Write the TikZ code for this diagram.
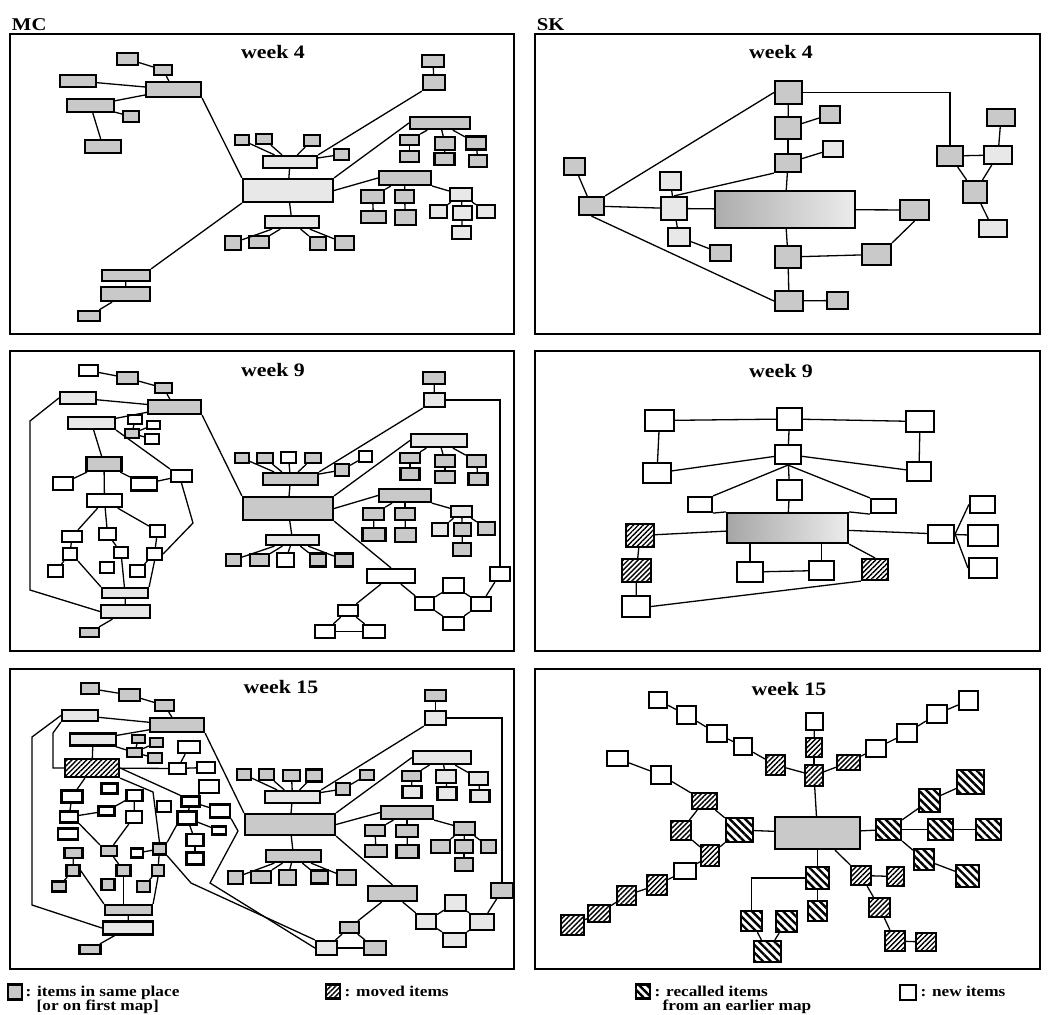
\documentclass[tikz,border=0pt]{standalone}
\usepackage{fontspec}
\setmainfont{Liberation Serif}[FakeStretch=1.15]
\usetikzlibrary{patterns.meta}

\begin{document}
\begin{tikzpicture}[
  x=1pt,y=-1pt,line width=1.3pt,
  box/.style={draw,rectangle,line width=2.2pt,inner sep=0pt},
  sz/.style 2 args={minimum width=#1pt,minimum height=#2pt},
  old/.style={box,fill=gray!42},
  light/.style={box,fill=gray!18},
  fresh/.style={box,fill=white},
  moved/.style={box,pattern={Lines[angle=45,distance=3.5pt,line width=1.4pt]}},
  recalled/.style={box,pattern={Lines[angle=-45,distance=5.5pt,line width=2.4pt]}},
  hub/.style={box,left color=#1,right color=gray!15},
  panel/.style={draw,line width=1.6pt},
  title/.style={font=\fontsize{19}{19}\selectfont\bfseries,anchor=base},
  tag/.style={font=\fontsize{18}{18}\selectfont\bfseries,anchor=base west},
  key/.style={font=\fontsize{15}{14.5}\selectfont\bfseries,anchor=base west,
    inner sep=0pt,align=left}
]
  \useasboundingbox (0,0) rectangle (1050,1015);
  \node[tag] (mc) at (8,30) {MC};
  \node[tag] (sk) at (533,30) {SK};
  \draw[panel] (10,34) rectangle (514,334);
  \draw[panel] (535,34) rectangle (1040,334);
  \draw[panel] (10,351) rectangle (514,651);
  \draw[panel] (535,351) rectangle (1040,651);
  \draw[panel] (10,669) rectangle (514,969);
  \draw[panel] (535,669) rectangle (1040,969);

  % MC, week 4
  \node[title] (tA) at (273,58.5) {week 4};
  \node[old,sz={21}{12}] (A1) at (127.5,59) {};
  \node[old,sz={18}{10}] (A2) at (163,70) {};
  \node[old,sz={36}{12}] (A3) at (78,81) {};
  \node[old,sz={55}{15}] (A4) at (173.5,89.5) {};
  \node[old,sz={47}{13}] (A5) at (90.5,105.5) {};
  \node[old,sz={16}{11}] (A6) at (131,116.5) {};
  \node[old,sz={36}{13}] (A7) at (103,146.5) {};
  \node[old,sz={22}{12}] (A8) at (433,61) {};
  \node[old,sz={22}{15}] (A9) at (434,82.5) {};
  \node[light,sz={90}{23}] (Ac) at (288,190.5) {};
  \node[light,sz={54}{12}] (At) at (290,162) {};
  \node[old,sz={14}{10}] (Aa1) at (242,140) {};
  \node[old,sz={16}{10}] (Aa2) at (264,139) {};
  \node[old,sz={16}{11}] (Aa3) at (312,140.5) {};
  \node[old,sz={15}{11}] (Aa4) at (341.5,154.5) {};
  \node[old,sz={60}{12}] (Ar) at (440,123) {};
  \node[old,sz={19}{10}] (Ar1) at (409.5,140) {};
  \node[old,sz={19}{11}] (Ar1b) at (409.5,156.5) {};
  \node[old,sz={20}{13}] (Ar2) at (445,143.5) {};
  \node[old,sz={20}{12}] (Ar2b) at (444.5,159) {};
  \node[old,sz={20}{13}] (Ar3) at (476,143) {};
  \node[old,sz={18}{12}] (Ar3b) at (478,161) {};
  \node[old,sz={52}{14}] (As) at (405,178) {};
  \node[old,sz={23}{13}] (As1) at (372.5,196.5) {};
  \node[old,sz={25}{12}] (As1b) at (373.5,217) {};
  \node[old,sz={19}{13}] (As2) at (404.5,196.5) {};
  \node[old,sz={21}{15}] (As2b) at (405.5,217.5) {};
  \node[light,sz={22}{13}] (Aq) at (461,194.5) {};
  \node[light,sz={17}{13}] (Aq1) at (438.5,211.5) {};
  \node[light,sz={19}{14}] (Aq2) at (462.5,213) {};
  \node[light,sz={18}{13}] (Aq3) at (486,211.5) {};
  \node[light,sz={19}{13}] (Aq4) at (461.5,232.5) {};
  \node[light,sz={54}{12}] (Ab) at (292,222) {};
  \node[old,sz={16}{14}] (Ab1) at (233,243) {};
  \node[old,sz={20}{12}] (Ab2) at (259,242) {};
  \node[old,sz={16}{13}] (Ab3) at (318,243.5) {};
  \node[old,sz={19}{14}] (Ab4) at (344.5,243) {};
  \node[old,sz={48}{11}] (Al1) at (126,275.5) {};
  \node[old,sz={49}{14}] (Al2) at (125.5,294) {};
  \node[old,sz={22}{10}] (Al3) at (89,316) {};
  \draw (A1) -- (A2);
  \draw (A2) -- (A4);
  \draw (A3) -- (A4);
  \draw (A5) -- (A4);
  \draw (A5) -- (A6);
  \draw (A5) -- (A7);
  \draw (A4.south east) -- (Ac.north west);
  \draw (A8) -- (A9);
  \draw (A9.south west) -- (At.north east);
  \draw (Ac) -- (At);
  \draw (Aa1) -- (At);
  \draw (Aa2) -- (At);
  \draw (Aa3) -- (At);
  \draw (Aa4) -- (At);
  \draw (Ac.north east) -- (Ar.west);
  \draw (Ar) -- (Ar1); \draw (Ar1) -- (Ar1b);
  \draw (Ar) -- (Ar2); \draw (Ar2) -- (Ar2b);
  \draw (Ar) -- (Ar3); \draw (Ar3) -- (Ar3b);
  \draw (Ac.east) -- (As.west);
  \draw (As) -- (As1); \draw (As1) -- (As1b);
  \draw (As) -- (As2); \draw (As2) -- (As2b);
  \draw (As) -- (Aq);
  \draw (Aq) -- (Aq1); \draw (Aq) -- (Aq2); \draw (Aq) -- (Aq3);
  \draw (Aq2) -- (Aq4);
  \draw (Ac) -- (Ab);
  \draw (Ab) -- (Ab1); \draw (Ab) -- (Ab2);
  \draw (Ab) -- (Ab3); \draw (Ab) -- (Ab4);
  \draw (Ac.south west) -- (Al1.north east);
  \draw (Al1) -- (Al2);
  \draw (Al2) -- (Al3);

  % SK, week 4
  \node[title] (tB) at (781,58) {week 4};
  \node[hub=gray!65,sz={140}{37}] (Bc) at (785,209.5) {};
  \node[old,sz={27}{23}] (B1) at (788.5,92.5) {};
  \node[old,sz={26}{22}] (B2) at (788,128) {};
  \node[old,sz={20}{17}] (B3) at (830,114.5) {};
  \node[old,sz={26}{18}] (B4) at (788,163) {};
  \node[light,sz={20}{16}] (B5) at (833,149) {};
  \node[old,sz={21}{17}] (B6) at (574.5,166.5) {};
  \node[old,sz={25}{18}] (B7) at (591.5,206) {};
  \node[light,sz={21}{18}] (B8) at (670.5,181) {};
  \node[light,sz={26}{23}] (B9) at (674,208.5) {};
  \node[light,sz={22}{18}] (B10) at (679,237) {};
  \node[old,sz={21}{16}] (B11) at (720.5,253) {};
  \node[old,sz={26}{22}] (B12) at (788,257) {};
  \node[old,sz={29}{21}] (B13) at (876.5,254.5) {};
  \node[old,sz={29}{20}] (B14) at (914.5,210) {};
  \node[old,sz={28}{20}] (B15) at (789,301) {};
  \node[old,sz={21}{17}] (B16) at (837.5,300.5) {};
  \node[old,sz={26}{20}] (Br1) at (950,156) {};
  \node[light,sz={28}{18}] (Br2) at (998,155) {};
  \node[old,sz={28}{17}] (Br3) at (1001,117.5) {};
  \node[old,sz={24}{22}] (Br4) at (975,192) {};
  \node[light,sz={28}{17}] (Br5) at (993,228.5) {};
  \draw (B1) -- (B2);
  \draw (B2) -- (B3);
  \draw (B2) -- (B4);
  \draw (B4) -- (B5);
  \draw (B4) -- (Bc);
  \draw (B1.west) -- (B7.north east);
  \draw (B7) -- (B6);
  \draw (B7) -- (B9);
  \draw (B7.south) -- (B15.west);
  \draw (B9) -- (Bc);
  \draw (B9) -- (B8);
  \draw (B9.north) -- (B4.south west);
  \draw (B9) -- (B10);
  \draw (B10) -- (B11);
  \draw (Bc) -- (B12);
  \draw (B12) -- (B13);
  \draw (B13.north east) -- (B14.south);
  \draw (Bc) -- (B14);
  \draw (B12) -- (B15);
  \draw (B15) -- (B16);
  \draw (B1.east) -| (Br1.north);
  \draw (Br1) -- (Br2);
  \draw (Br2) -- (Br3);
  \draw (Br1) -- (Br4);
  \draw (Br2) -- (Br4);
  \draw (Br4) -- (Br5);

  % MC, week 9
  \node[title] (tC) at (273,376.5) {week 9};
  \node[fresh,sz={19}{11}] (C1) at (88.5,370.5) {};
  \node[old,sz={21}{12}] (C2) at (127.5,378) {};
  \node[old,sz={17}{10}] (C3) at (163.5,388) {};
  \node[old,sz={53}{14}] (C4) at (174.5,407) {};
  \node[light,sz={36}{12}] (C5) at (78,398) {};
  \node[light,sz={47}{12}] (C6) at (91.5,423) {};
  \node[fresh,sz={14}{9}] (Cs1) at (135,419.5) {};
  \node[fresh,sz={13}{8}] (Cs2) at (153.5,425) {};
  \node[old,sz={14}{9}] (Cs3) at (132,433.5) {};
  \node[fresh,sz={14}{10}] (Cs4) at (152,439) {};
  \node[old,sz={35}{14}] (Cp) at (104,464) {};
  \node[fresh,sz={21}{12}] (Cw1) at (181.5,476) {};
  \node[fresh,sz={20}{13}] (Cw2) at (63,483.5) {};
  \node[fresh,sz={26}{13}] (Cw3) at (144,484) {};
  \node[fresh,sz={35}{13}] (Cw4) at (104.5,500.5) {};
  \node[fresh,sz={20}{11}] (Cw5) at (72,536.5) {};
  \node[fresh,sz={17}{12}] (Cw6) at (107.5,534) {};
  \node[fresh,sz={15}{12}] (Cw7) at (157.5,531) {};
  \node[fresh,sz={14}{12}] (Cw8) at (70,554) {};
  \node[fresh,sz={15}{12}] (Cw9) at (55.5,571) {};
  \node[fresh,sz={14}{11}] (Cw10) at (121,552.5) {};
  \node[fresh,sz={14}{11}] (Cw11) at (107,567.5) {};
  \node[fresh,sz={15}{12}] (Cw12) at (154.5,554) {};
  \node[fresh,sz={15}{12}] (Cw13) at (137.5,571) {};
  \node[light,sz={46}{10}] (Cg1) at (125,593) {};
  \node[light,sz={49}{13}] (Cg2) at (125.5,611.5) {};
  \node[old,sz={19}{9}] (Cg3) at (89.5,632.5) {};
  \draw (C1) -- (C2);
  \draw (C2) -- (C3);
  \draw (C3) -- (C4);
  \draw (C5) -- (C4);
  \draw (C6) -- (C4);
  \draw (Cs3) -- (Cs1); \draw (Cs3) -- (Cs2); \draw (Cs3) -- (Cs4);
  \draw (C6) -- (Cp);
  \draw (C6.south east) -- (Cw1.north west);
  \draw (Cp) -- (Cw2);
  \draw (Cp) -- (Cw3);
  \draw (Cw3) -- (Cw1);
  \draw (Cp) -- (Cw4);
  \draw (Cw4) -- (Cw5); \draw (Cw4) -- (Cw6); \draw (Cw4) -- (Cw7);
  \draw (Cw5) -- (Cw8);
  \draw (Cw8) -- (Cw9);
  \draw (Cw6) -- (Cw10);
  \draw (Cw7) -- (Cw12);
  \draw (Cw12) -- (Cw13);
  \draw (Cw8.south east) -- (Cg1.north west);
  \draw (Cw10) -- (Cg1);
  \draw (Cw12.south) -- (Cg1.north east);
  \draw (Cg1) -- (Cg2);
  \draw (Cg2) -- (Cg3);
  \draw (Cw1.south) -- (193,523) -- (Cw12.east);
  \draw (C5.west) -- (30,421) -- (30,590) -- (Cg2.west);
  \node[old,sz={22}{12}] (Cc1) at (434,378) {};
  \node[light,sz={21}{14}] (Cc2) at (434.5,400) {};
  \node[fresh,sz={20}{14}] (Ccr) at (500,574) {};
  \node[old,sz={90}{23}] (Cc) at (288,508.5) {};
  \node[old,sz={55}{12}] (Ct) at (290.5,479) {};
  \node[old,sz={14}{10}] (Ct1) at (242,458) {};
  \node[old,sz={16}{10}] (Ct2) at (265,458) {};
  \node[fresh,sz={15}{11}] (Ct3) at (288.5,457.5) {};
  \node[old,sz={16}{10}] (Ct4) at (313,458) {};
  \node[old,sz={14}{12}] (Ct5) at (342,470) {};
  \node[fresh,sz={13}{11}] (Ct6) at (365.5,456.5) {};
  \node[light,sz={56}{13}] (Cr) at (439,440.5) {};
  \node[old,sz={20}{10}] (Cr1) at (410,458) {};
  \node[old,sz={19}{12}] (Cr1b) at (410,474) {};
  \node[old,sz={20}{12}] (Cr2) at (445,461) {};
  \node[old,sz={20}{12}] (Cr2b) at (445,477) {};
  \node[old,sz={19}{12}] (Cr3) at (476.5,461) {};
  \node[old,sz={19}{12}] (Cr3b) at (478,479) {};
  \node[old,sz={52}{13}] (Cm) at (405,495.5) {};
  \node[old,sz={21}{12}] (Cm1) at (373.5,514) {};
  \node[old,sz={23}{13}] (Cm1b) at (374,534.5) {};
  \node[old,sz={20}{12}] (Cm2) at (405,514) {};
  \node[old,sz={21}{14}] (Cm2b) at (405.5,535) {};
  \node[light,sz={21}{11}] (Cq) at (461.5,511.5) {};
  \node[light,sz={16}{13}] (Cq1) at (440,529.5) {};
  \node[old,sz={17}{13}] (Cq2) at (462.5,529.5) {};
  \node[old,sz={17}{13}] (Cq3) at (486.5,528.5) {};
  \node[old,sz={18}{13}] (Cq4) at (462,549.5) {};
  \node[light,sz={53}{10}] (Cb) at (292.5,540) {};
  \node[old,sz={15}{12}] (Cd1) at (233.5,560) {};
  \node[old,sz={19}{12}] (Cd2) at (259.5,560) {};
  \node[fresh,sz={17}{14}] (Cd3) at (285.5,560) {};
  \node[old,sz={16}{13}] (Cd4) at (318,560) {};
  \node[old,sz={18}{13}] (Cd5) at (344,560) {};
  \node[fresh,sz={48}{14}] (Ce1) at (391,576) {};
  \node[fresh,sz={20}{11}] (Ce2) at (348,610.5) {};
  \node[fresh,sz={20}{13}] (Ce3) at (325,631.5) {};
  \node[fresh,sz={22}{13}] (Ce4) at (374,631.5) {};
  \node[fresh,sz={19}{13}] (Ce5) at (424.5,603.5) {};
  \node[fresh,sz={21}{15}] (Ce6) at (453.5,585.5) {};
  \node[fresh,sz={20}{14}] (Ce7) at (481,604) {};
  \node[fresh,sz={21}{13}] (Ce8) at (453.5,623.5) {};
  \draw (C4.south east) -- (Cc.north west);
  \draw (Cc1) -- (Cc2);
  \draw (Cc2.south west) -- (Ct.north east);
  \draw (Cc2.east) -| (Ccr.north);
  \draw (Cc) -- (Ct);
  \draw (Ct1) -- (Ct); \draw (Ct2) -- (Ct); \draw (Ct3) -- (Ct); \draw (Ct4) -- (Ct);
  \draw (Ct5) -- (Ct);
  \draw (Ct6) -- (Ct5);
  \draw (Cc.north east) -- (Cr.west);
  \draw (Cr) -- (Cr1); \draw (Cr1) -- (Cr1b);
  \draw (Cr) -- (Cr2); \draw (Cr2) -- (Cr2b);
  \draw (Cr) -- (Cr3); \draw (Cr3) -- (Cr3b);
  \draw (Cc.east) -- (Cm.west);
  \draw (Cm) -- (Cm1); \draw (Cm1) -- (Cm1b);
  \draw (Cm) -- (Cm2); \draw (Cm2) -- (Cm2b);
  \draw (Cm) -- (Cq);
  \draw (Cq) -- (Cq1); \draw (Cq) -- (Cq2); \draw (Cq) -- (Cq3);
  \draw (Cq2) -- (Cq4);
  \draw (Cc) -- (Cb);
  \draw (Cb) -- (Cd1); \draw (Cb) -- (Cd2); \draw (Cb) -- (Cd3);
  \draw (Cb) -- (Cd4); \draw (Cb) -- (Cd5);
  \draw (Cc.south east) -- (Ce1.north);
  \draw (Ce1) -- (Ce2);
  \draw (Ce2) -- (Ce3); \draw (Ce2) -- (Ce4); \draw (Ce3) -- (Ce4);
  \draw (Ce1) -- (Ce5);
  \draw (Ce5) -- (Ce6); \draw (Ce6) -- (Ce7);
  \draw (Ce5) -- (Ce8); \draw (Ce8) -- (Ce7);
  \draw (Ce7) -- (Ccr);

  % SK, week 9
  \node[title] (tD) at (781,377) {week 9};
  \node[hub=gray!70,sz={121}{30}] (Dc) at (787.5,528) {};
  \node[fresh,sz={29}{21}] (D1) at (659.5,420.5) {};
  \node[fresh,sz={25}{22}] (D2) at (789.5,419) {};
  \node[fresh,sz={28}{21}] (D3) at (920,421.5) {};
  \node[fresh,sz={28}{20}] (D4) at (657,473) {};
  \node[fresh,sz={26}{19}] (D5) at (788,454.5) {};
  \node[fresh,sz={24}{19}] (D6) at (919,471.5) {};
  \node[fresh,sz={25}{20}] (D7) at (789.5,490) {};
  \node[fresh,sz={24}{15}] (D8) at (700,504.5) {};
  \node[fresh,sz={25}{14}] (D9) at (883.5,506) {};
  \node[moved,sz={28}{23}] (D10) at (640,535.5) {};
  \node[moved,sz={29}{23}] (D11) at (636.5,570.5) {};
  \node[fresh,sz={28}{21}] (D12) at (636,606.5) {};
  \node[fresh,sz={26}{20}] (D13) at (750,572) {};
  \node[fresh,sz={25}{19}] (D14) at (821.5,570.5) {};
  \node[moved,sz={26}{21}] (D15) at (875,569.5) {};
  \node[fresh,sz={26}{18}] (D16) at (941,534) {};
  \node[fresh,sz={25}{17}] (D17) at (982.5,504.5) {};
  \node[fresh,sz={30}{21}] (D18) at (983,535.5) {};
  \node[fresh,sz={28}{20}] (D19) at (983,568) {};
  \draw (D1) -- (D2);
  \draw (D2) -- (D3);
  \draw (D1) -- (D4);
  \draw (D3) -- (D6);
  \draw (D2) -- (D5);
  \draw (D5) -- (D4);
  \draw (D5) -- (D6);
  \draw (D5.south) -- (D8.north east);
  \draw (D5) -- (D7);
  \draw (D5.south) -- (D9.north west);
  \draw (D7) -- (Dc);
  \draw (D8.south east) -- (Dc.north west);
  \draw (D9.south west) -- (Dc.north east);
  \draw (D10) -- (Dc);
  \draw (D10) -- (D11);
  \draw (D11) -- (D12);
  \draw (D13.north |- Dc.south) -- (D13.north);
  \draw (D14.north |- Dc.south) -- (D14.north);
  \draw (D13) -- (D14);
  \draw (Dc.south east) -- (D15.north);
  \draw (D15.south west) -- (D12.east);
  \draw (Dc) -- (D16);
  \draw (D16.east) -- (D17.west);
  \draw (D16) -- (D18);
  \draw (D16.east) -- (D19.west);

  % MC, week 15
  \node[title] (tE) at (281,693.5) {week 15};
  \node[old,sz={18}{11}] (E1) at (90,688.5) {};
  \node[old,sz={21}{12}] (E2) at (129.5,695) {};
  \node[old,sz={19}{11}] (E3) at (164.5,705.5) {};
  \node[old,sz={54}{14}] (E4) at (177,725) {};
  \node[light,sz={36}{11}] (E5) at (80,715.5) {};
  \node[light,sz={46}{12}] (E6) at (93,739.5) {};
  \node[old,sz={13}{8}] (Es1) at (138.5,739) {};
  \node[old,sz={13}{9}] (Es2) at (156.5,742.5) {};
  \node[old,sz={15}{9}] (Es3) at (134.5,752.5) {};
  \node[old,sz={14}{10}] (Es4) at (155,758) {};
  \node[moved,sz={54}{18}] (Em) at (92,768) {};
  \node[fresh,sz={17}{11}] (Ew) at (177.5,768.5) {};
  \node[fresh,sz={22}{12}] (Ex1) at (189,747) {};
  \node[fresh,sz={18}{11}] (Ex2) at (206,767.5) {};
  \node[fresh,sz={20}{13}] (Ez1) at (209,786.5) {};
  \node[fresh,sz={18}{10}] (Ey1) at (190.5,801.5) {};
  \node[fresh,sz={14}{11}] (Ez2) at (164,806.5) {};
  \node[fresh,sz={19}{13}] (Ez3) at (187,818) {};
  \node[fresh,sz={20}{13}] (Ey2) at (220,811) {};
  \node[fresh,sz={14}{8}] (Ez4) at (219,830.5) {};
  \node[fresh,sz={17}{12}] (Ez5) at (195,840) {};
  \node[fresh,sz={17}{12}] (Ez6) at (195,858.5) {};
  \node[old,sz={13}{11}] (Eq) at (159.5,849) {};
  \node[fresh,sz={12}{9}] (Eqw) at (137,853) {};
  \node[old,sz={12}{11}] (Ef) at (158,870.5) {};
  \node[old,sz={13}{11}] (Ei) at (143.5,886.5) {};
  \node[fresh,sz={21}{12}] (En1) at (72,796.5) {};
  \node[fresh,sz={16}{10}] (En2) at (109.5,788.5) {};
  \node[fresh,sz={16}{11}] (En3) at (134.5,795.5) {};
  \node[fresh,sz={18}{11}] (En4) at (69,817) {};
  \node[fresh,sz={16}{9}] (En5) at (106.5,811) {};
  \node[fresh,sz={16}{12}] (En6) at (134,817) {};
  \node[fresh,sz={20}{11}] (En7) at (68,834) {};
  \node[old,sz={16}{10}] (Egq) at (109,851) {};
  \node[old,sz={18}{10}] (Ega) at (73.5,853) {};
  \node[old,sz={13}{11}] (Egb) at (73,870.5) {};
  \node[old,sz={14}{10}] (Egc) at (59,886.5) {};
  \node[old,sz={14}{11}] (Egd) at (123.5,870.5) {};
  \node[old,sz={13}{11}] (Ege) at (108,884.5) {};
  \node[old,sz={47}{10}] (Eg1) at (128.5,910) {};
  \node[light,sz={50}{13}] (Eg2) at (128,928) {};
  \node[old,sz={21}{9}] (Eg3) at (90,949.5) {};
  \draw (E1) -- (E2);
  \draw (E2) -- (E3);
  \draw (E3) -- (E4);
  \draw (E5) -- (E4);
  \draw (E6) -- (E4);
  \draw (E6) -- (Es3);
  \draw (Es3) -- (Es1); \draw (Es3) -- (Es2); \draw (Es3) -- (Es4);
  \draw (E6) -- (Em);
  \draw (E5.west) -- (32,737) -- (32,905) -- (Eg2.west);
  \draw (E5.south west) -- (53,733) -- (53,768) -- (Em.west);
  \draw (Em) -- (Ew);
  \draw (Ew) -- (Ex1);
  \draw (Ew) -- (Ex2);
  \draw (Em.east) -- (Ey1.north west);
  \draw (Em.south east) -- (153,792) -- (Eq.north);
  \draw (Ey1) -- (Ez1);
  \draw (Ey1) -- (Ez3);
  \draw (Ey1) -- (Ey2);
  \draw (Ez3) -- (Ez4);
  \draw (Ez3) -- (Ez5);
  \draw (Ez5) -- (Ez6);
  \draw (Ez3.south west) -- (Eq.north east);
  \draw (Eqw) -- (Eq);
  \draw (Eq) -- (Ef);
  \draw (Ef) -- (Ei);
  \draw (Ef.south) -- (Eg1.north east);
  \draw (Em) -- (En1);
  \draw (En1) -- (En4);
  \draw (En4) -- (En5);
  \draw (En5) -- (En3);
  \draw (En3) -- (En6);
  \draw (En4.south east) -- (Egq.north west);
  \draw (En6) -- (Egq);
  \draw (Egq) -- (Egd);
  \draw (Egd) -- (Egd |- Eg1.north);
  \draw (Ega) -- (Egb);
  \draw (Egb) -- (Egc);
  \draw (Egb.east) -- (Eg1.north west);
  \draw (Eg1) -- (Eg2);
  \draw (Eg2) -- (Eg3);
  \node[old,sz={21}{11}] (Ec1) at (435.5,695.5) {};
  \node[light,sz={21}{14}] (Ec2) at (435.5,718) {};
  \node[old,sz={22}{15}] (Ecr) at (502,890.5) {};
  \node[old,sz={90}{21}] (Ec) at (290,824.5) {};
  \node[light,sz={55}{12}] (Et) at (292.5,797) {};
  \node[old,sz={14}{11}] (Et1) at (244,774.5) {};
  \node[old,sz={15}{11}] (Et2) at (266.5,774.5) {};
  \node[old,sz={17}{11}] (Et3) at (291.5,775.5) {};
  \node[old,sz={16}{12}] (Et4) at (314,775.5) {};
  \node[old,sz={14}{12}] (Et5) at (343,789) {};
  \node[old,sz={14}{10}] (Et6) at (367,775) {};
  \node[light,sz={58}{13}] (Er) at (442,757.5) {};
  \node[old,sz={19}{10}] (Er1) at (411.5,776) {};
  \node[light,sz={19}{12}] (Er1b) at (412,792) {};
  \node[light,sz={20}{13}] (Er2) at (446,776.5) {};
  \node[light,sz={19}{13}] (Er2b) at (447,793.5) {};
  \node[light,sz={19}{13}] (Er3) at (478.5,778.5) {};
  \node[light,sz={19}{12}] (Er3b) at (480,796) {};
  \node[old,sz={52}{13}] (Ek) at (407,812.5) {};
  \node[old,sz={20}{11}] (Ek1) at (375,830.5) {};
  \node[old,sz={22}{12}] (Ek1b) at (376,851) {};
  \node[old,sz={22}{12}] (Ek2) at (407,831) {};
  \node[old,sz={22}{13}] (Ek2b) at (407.5,851.5) {};
  \node[old,sz={21}{13}] (Ej) at (464.5,828.5) {};
  \node[old,sz={19}{13}] (Ej1) at (440.5,846.5) {};
  \node[old,sz={18}{13}] (Ej2) at (464,846.5) {};
  \node[old,sz={15}{13}] (Ej3) at (488.5,846.5) {};
  \node[old,sz={18}{13}] (Ej4) at (464,864.5) {};
  \node[old,sz={55}{12}] (Eb) at (293.5,856) {};
  \node[old,sz={15}{13}] (Ed1) at (235.5,877.5) {};
  \node[old,sz={20}{12}] (Ed2) at (261,877) {};
  \node[old,sz={17}{15}] (Ed3) at (287.5,877.5) {};
  \node[old,sz={17}{13}] (Ed4) at (319.5,877) {};
  \node[old,sz={19}{15}] (Ed5) at (346.5,877.5) {};
  \node[old,sz={49}{15}] (Ee1) at (392.5,893.5) {};
  \node[old,sz={19}{11}] (Ee2) at (349.5,927.5) {};
  \node[light,sz={21}{14}] (Ee3) at (326.5,948) {};
  \node[old,sz={22}{14}] (Ee4) at (375,948) {};
  \node[light,sz={20}{15}] (Ee5) at (426,921.5) {};
  \node[light,sz={21}{16}] (Ee6) at (455.5,903) {};
  \node[light,sz={24}{16}] (Ee7) at (482,922) {};
  \node[light,sz={23}{14}] (Ee8) at (454.5,940) {};
  \draw (E4.south east) -- (Ec.north west);
  \draw (Ec1) -- (Ec2);
  \draw (Ec2.south west) -- (Et.north east);
  \draw (Ec2.east) -| (Ecr.north);
  \draw (Ec) -- (Et);
  \draw (Et1) -- (Et); \draw (Et2) -- (Et); \draw (Et3) -- (Et); \draw (Et4) -- (Et);
  \draw (Et5) -- (Et);
  \draw (Et6) -- (Et5);
  \draw (Ec.north east) -- (Er.west);
  \draw (Er) -- (Er1); \draw (Er1) -- (Er1b);
  \draw (Er) -- (Er2); \draw (Er2) -- (Er2b);
  \draw (Er) -- (Er3); \draw (Er3) -- (Er3b);
  \draw (Ec.east) -- (Ek.west);
  \draw (Ek) -- (Ek1); \draw (Ek1) -- (Ek1b);
  \draw (Ek) -- (Ek2); \draw (Ek2) -- (Ek2b);
  \draw (Ek) -- (Ej);
  \draw (Ej) -- (Ej1); \draw (Ej) -- (Ej2); \draw (Ej) -- (Ej3);
  \draw (Ej2) -- (Ej4);
  \draw (Ec) -- (Eb);
  \draw (Eb) -- (Ed1); \draw (Eb) -- (Ed2); \draw (Eb) -- (Ed3);
  \draw (Eb) -- (Ed4); \draw (Eb) -- (Ed5);
  \draw (Ec.south east) -- (Ee1.north);
  \draw (Ee1) -- (Ee2);
  \draw (Ee2) -- (Ee3); \draw (Ee2) -- (Ee4); \draw (Ee3) -- (Ee4);
  \draw (Ee1) -- (Ee5);
  \draw (Ee5) -- (Ee6); \draw (Ee6) -- (Ee7);
  \draw (Ee5) -- (Ee8); \draw (Ee8) -- (Ee7);
  \draw (Ee7) -- (Ecr);
  \draw (Ey2.south east) -- (238,831) -- (210,883) -- (Ee3.west);
  \draw (Eq.south east) -- (191,883) -- (Ee3.north west);

  % SK, week 15
  \node[title] (tF) at (789,695.5) {week 15};
  \node[old,sz={85}{32}] (Fc) at (817.5,833) {};
  \node[fresh,sz={17}{17}] (Ft1) at (814.5,721.5) {};
  \node[moved,sz={16}{19}] (Ft2) at (814,747.5) {};
  \node[moved,sz={18}{21}] (Ft3) at (814,775.5) {};
  \node[moved,sz={19}{20}] (Fu1) at (775.5,765) {};
  \node[fresh,sz={18}{17}] (Fu2) at (743,746.5) {};
  \node[fresh,sz={20}{17}] (Fu3) at (717,733.5) {};
  \node[fresh,sz={19}{18}] (Fu4) at (686.5,715) {};
  \node[fresh,sz={18}{16}] (Fu5) at (658,700) {};
  \node[moved,sz={23}{15}] (Fv1) at (848.5,762.5) {};
  \node[fresh,sz={20}{17}] (Fv2) at (876,748.5) {};
  \node[fresh,sz={20}{18}] (Fv3) at (907,733) {};
  \node[fresh,sz={20}{18}] (Fv4) at (937,714) {};
  \node[fresh,sz={19}{19}] (Fv5) at (968.5,700.5) {};
  \node[recalled,sz={27}{24}] (Fl1) at (739.5,830) {};
  \node[moved,sz={25}{16}] (Fl2) at (704.5,801) {};
  \node[fresh,sz={20}{18}] (Fl3) at (661,775) {};
  \node[fresh,sz={21}{15}] (Fl4) at (617.5,758.5) {};
  \node[moved,sz={20}{19}] (Fl5) at (681,830.5) {};
  \node[moved,sz={18}{21}] (Fl6) at (710,855.5) {};
  \node[fresh,sz={22}{16}] (Fl7) at (685,871) {};
  \node[moved,sz={20}{20}] (Fl8) at (657,885) {};
  \node[moved,sz={19}{19}] (Fl9) at (626.5,895.5) {};
  \node[moved,sz={22}{17}] (Fl10) at (599,913.5) {};
  \node[moved,sz={23}{20}] (Fl11) at (572.5,925) {};
  \node[recalled,sz={25}{21}] (Fr1) at (888.5,829.5) {};
  \node[recalled,sz={21}{23}] (Fr2) at (929.5,800.5) {};
  \node[recalled,sz={27}{24}] (Fr3) at (970.5,782) {};
  \node[recalled,sz={25}{21}] (Fr4) at (940.5,829.5) {};
  \node[recalled,sz={25}{21}] (Fr5) at (988.5,829.5) {};
  \node[recalled,sz={20}{21}] (Fr6) at (924,859.5) {};
  \node[recalled,sz={23}{22}] (Fr7) at (967.5,876) {};
  \node[moved,sz={20}{19}] (Fd1) at (861,875.5) {};
  \node[moved,sz={17}{19}] (Fd2) at (895.5,876.5) {};
  \node[moved,sz={21}{19}] (Fd3) at (879.5,907.5) {};
  \node[moved,sz={20}{20}] (Fd4) at (895,941) {};
  \node[moved,sz={20}{18}] (Fd5) at (926,942) {};
  \node[recalled,sz={23}{22}] (Fm1) at (817.5,878) {};
  \node[recalled,sz={19}{20}] (Fm2) at (817.5,911) {};
  \node[recalled,sz={21}{20}] (Fm3) at (751.5,921) {};
  \node[recalled,sz={21}{21}] (Fm4) at (786.5,921.5) {};
  \node[recalled,sz={27}{21}] (Fm5) at (767.5,951.5) {};
  \draw (Ft1) -- (Ft2);
  \draw (Ft2) -- (Ft3);
  \draw (Ft3) -- (Fc);
  \draw (Ft3) -- (Fu1);
  \draw (Fu1) -- (Fu2); \draw (Fu2) -- (Fu3);
  \draw (Fu3) -- (Fu4); \draw (Fu4) -- (Fu5);
  \draw (Ft3) -- (Fv1);
  \draw (Fv1) -- (Fv2); \draw (Fv2) -- (Fv3);
  \draw (Fv3) -- (Fv4); \draw (Fv4) -- (Fv5);
  \draw (Fc) -- (Fl1);
  \draw (Fl2) -- (Fl1);
  \draw (Fl4) -- (Fl3);
  \draw (Fl3) -- (Fl2);
  \draw (Fl2) -- (Fl5);
  \draw (Fl5) -- (Fl6);
  \draw (Fl6) -- (Fl1);
  \draw (Fl6) -- (Fl7);
  \draw (Fl7) -- (Fl8); \draw (Fl8) -- (Fl9);
  \draw (Fl9) -- (Fl10); \draw (Fl10) -- (Fl11);
  \draw (Fc) -- (Fr1);
  \draw (Fr1) -- (Fr2); \draw (Fr2) -- (Fr3);
  \draw (Fr1) -- (Fr4); \draw (Fr4) -- (Fr5);
  \draw (Fr1) -- (Fr6); \draw (Fr6) -- (Fr7);
  \draw (Fc) -- (Fd1);
  \draw (Fd1) -- (Fd2);
  \draw (Fd1) -- (Fd3);
  \draw (Fd3) -- (Fd4);
  \draw (Fd4) -- (Fd5);
  \draw (Fc) -- (Fm1);
  \draw (Fm1) -- (Fm2);
  \draw (Fm1.west) -| (Fm3.north);
  \draw (Fm3) -- (Fm5);
  \draw (Fm4) -- (Fm5);

  % key
  \node[old,sz={14}{15}] (k1) at (15,992) {};
  \node[key] (k1a) at (25,1010.5) {: items in same place\\\hspace*{11pt}[or on first map]};
  \node[moved,sz={14}{14}] (k2) at (333,991.5) {};
  \node[key] (k2a) at (344,996) {: moved items};
  \node[recalled,sz={14}{14}] (k3) at (643,991.5) {};
  \node[key] (k3a) at (654,1010.5) {: recalled items\\\hspace*{8pt}from an earlier map};
  \node[fresh,sz={16}{15}] (k4) at (908,992.5) {};
  \node[key] (k4a) at (920,996) {: new items};
\end{tikzpicture}
\end{document}
